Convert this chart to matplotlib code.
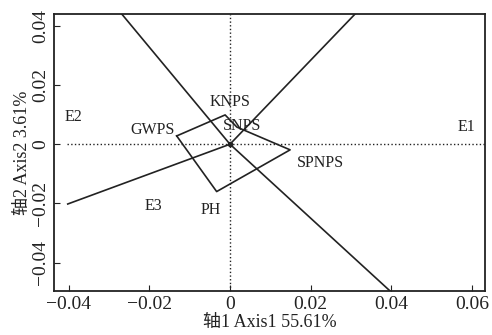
import matplotlib
matplotlib.use('Agg')
import matplotlib.pyplot as plt

plt.rcParams['font.family'] = ['Liberation Serif', 'Noto Sans CJK SC']
plt.rcParams['axes.unicode_minus'] = True

# vecteurs des facteurs (depuis l'origine)
vec_names = ['E1', 'E2', 'E3', 'E4']
vec_x = [0.0341, -0.0295, -0.0402, 0.0400]
vec_y = [0.0484, 0.0484, -0.0202, -0.0500]

# polygone des espèces
poly_names = ['GWPS', 'KNPS', 'SNPS', 'SPNPS', 'PH']
poly_x = [-0.0132, -0.0012, 0.0017, 0.0149, -0.0033]
poly_y = [0.0028, 0.0099, 0.0058, -0.0019, -0.0160]

# étiquettes
lab_text = ['E1', 'E2', 'E3', 'KNPS', 'GWPS', 'SNPS', 'SPNPS', 'PH']
lab_x = [0.0587, -0.0389, -0.0190, 0.0000, -0.0192, 0.0031, 0.0223, -0.0048]
lab_y = [0.0059, 0.0092, -0.0210, 0.0144, 0.0048, 0.0062, -0.0062, -0.0222]

xticks = [-0.04, -0.02, 0, 0.02, 0.04, 0.06]
yticks = [-0.04, -0.02, 0, 0.02, 0.04]

fig = plt.figure(figsize=(4.92, 3.35), dpi=100)
ax = fig.add_axes([0.1098, 0.1313, 0.876, 0.8269])
ax.set_xlim(-0.0436, 0.0632)
ax.set_ylim(-0.0496, 0.044)

col = '#222222'
ax.axhline(0, color=col, ls=':', lw=1.0, xmin=0.03)
ax.axvline(0, color=col, ls=':', lw=1.0)

for vx, vy in zip(vec_x, vec_y):
    ax.plot([0, vx], [0, vy], color=col, lw=1.2)

ax.plot(poly_x + poly_x[:1], poly_y + poly_y[:1], color=col, lw=1.2)
ax.plot([0], [0], 'o', color=col, ms=3)

for t, x, y in zip(lab_text, lab_x, lab_y):
    ax.text(x, y, t, ha='center', va='center', fontsize=11.5, color=col)

ax.set_xticks(xticks)
ax.set_yticks(yticks)
ax.set_xticklabels(['−0.04', '−0.02', '0', '0.02', '0.04', '0.06'])
ax.set_yticklabels(['−0.04', '−0.02', '0', '0.02', '0.04'], rotation=90, va='center')
ax.tick_params(direction='in', labelsize=14, length=4, colors=col)
for s in ax.spines.values():
    s.set_linewidth(1.3)
    s.set_color(col)

ax.set_xlabel('轴1 Axis1 55.61%', fontsize=13, labelpad=1, color=col)
ax.set_ylabel('轴2 Axis2 3.61%', fontsize=13, labelpad=1, color=col)

fig.savefig('out.png', dpi=100)
